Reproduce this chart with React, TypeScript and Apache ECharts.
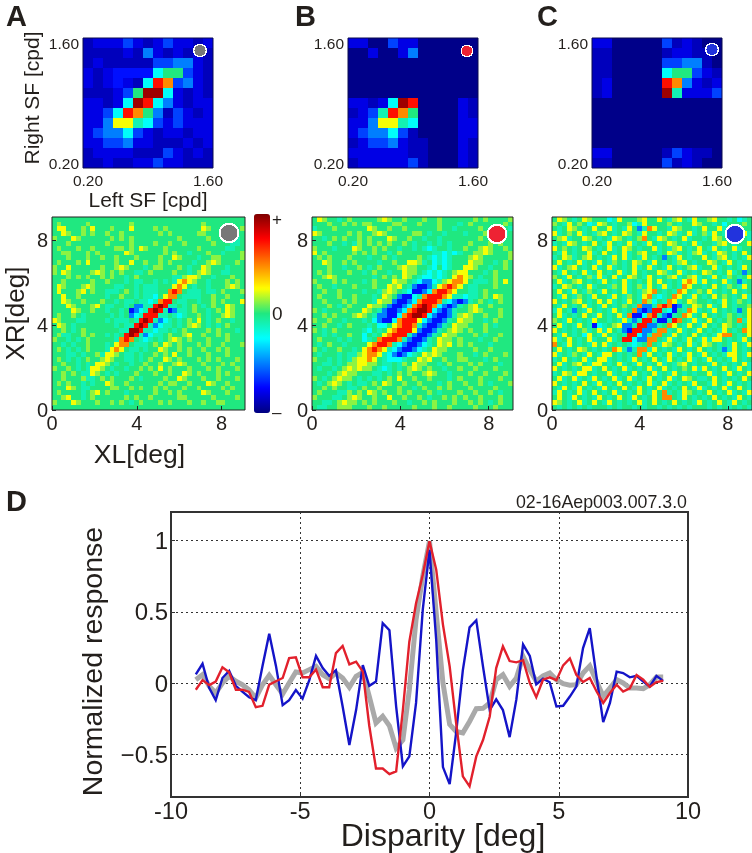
import React, { useEffect, useRef } from "react";
import * as echarts from "echarts";

const FONT = "'Liberation Sans', Arial, sans-serif";
const INK = "#231f1c";

const sfLabels = ["0.20","0.24","0.28","0.34","0.40","0.48","0.57","0.67","0.80","0.95","1.13","1.35","1.60"];
const levels: Record<string, number> = { n: 0.01, m: 0.06, u: 0.1, b: 0.14, h: 0.19, a: 0.25, c: 0.38, "-": 0.45, ".": 0.5, "+": 0.56, y: 0.62, o: 0.74, r: 0.86, d: 0.97 };

const sfA = ["muuuhumuhuumu","mmmmumaumumum","mummmmmhhaaum","umubbbbc..hum","umubumcrohaum","mmmuh.ddcumum","uumucdrcaumuu","uuhcro.amhumu","uuayy-chuhuuu","uhaachumuumuu","uuhhauummmumu","muuuummmhumum","mmummuuhuummm"];
const sfB = ["uunnhuunnnnnn","nnunnuannnnnn","nnnnnnnnnnnnn","nnnnnnnnnnnnn","nnnnnnnnnnnnn","nnnnnnnnnnnnn","uumucdrnnnnum","muh-ro.nnnnum","uuayy-cnnnnuu","uhaachmnnnnuu","muhhaummnnnum","uuuuuummnnnum","muuuuuhmnnnum"];
const sfC = ["uunnnnnhmumnn","mmnnnnnmuummn","mmnnnnnhhaamn","mmnnnnnc..hum","munnnnnroaumu","munnnnnd-uuuh","nnnnnnnnnnnnn","nnnnnnnnnnnnn","nnnnnnnnnnnnn","nnnnnnnnnnnnn","nnnnnnnnnnnnn","uunnnnnmhummn","mmnnnnnhmumnn"];

const rfA = [
".......... .......... .......... ..........",
".+.....+.. ......+... .......... .+........",
".yy...+.y. ..+...y... .+.+...... .y+......+",
"..y+..+.+. .+..+..... ..+.+..... ++........",
"+...y+.... ..+.+.+... ......+... ..+.....-.",
"...+...... .+....+... .+..+..+.. ...+...--.",
".+...+..+. ...++.+.y+ ...+...... +.....--..",
"..++...+.+ .....y+... ...+.+..-. ..+..-...+",
"...+...+.. +..+...+.. ..+..y+... -..++....+",
".+...+.y.. ...+..y..+ ..+.+....- ..+y+...+.",
"+..y...... +..+y+...- .++...+.-. .y+...-...",
"+.y+....+y +.+.+..--. +....+..-. +y+..--...",
"...+.+.+.. +.+..-.+.. .....--+yy +..-...+..",
"..+.....+. .+...-.--. .-.-.-yoy+ ..-...+.+.",
".y+...+y+. ...--..-.- --...yoy.- ..-...+y+.",
".y...+y.+. .---.+.-.- --..oro.-- -.--.+...+",
"..y..+.... .-..+..-.- -c.yoo.--- -..+..+...",
"..y+..+... +..-.--.-- c-orr.--.. -..+.+...y",
"...y+...+y .--..-.aa- -rdr--.-.+ .-.+..y+..",
"....y+..+. .-..-.bac- rdr-ba--.+ ..-.+.y+..",
".+..+.-... ..-.-.ac-r rr--.-c-.. +.-..+y+..",
"y+...--... .-.---.-rd r-ac-.-.+. y.-.+..-..",
".y+.-..... ...-.--rdr -ac--.-.+y +.-.-.+...",
"..+.-.+... ....--ddr- -c--.-.+.. ..+.+...-.",
".+--..+.+. .-.-.rdr-a c--.+..+y. .+..+.+...",
"+..-.-.+.. ...-oro.-c -.-.+y+.+. ..+...+...",
"..-.-..+.. .-.yoo.--- .+.y+.+... +.+..+...+",
".+.-.-.+.. .-yoy.--.- ..y+..+.+. .+..+.+...",
"...--.-..+ -yy+.--.-. .+.+.y..+. ..+...+...",
".+.-.-.+.. +y+..--.-. +..y+.+... +.+.+...+.",
"..+..-.-.y y+.-..-..+ ..+..+y+.. .+...+.+..",
"+..+.-.-yy +.-..-..+. +.y.+...+. ..+.+...+.",
"..+.+.--y+ .-.-...+.. .+..+..y+. +...+.+...",
"..+...+--. +.+...+.-. ...+..y+.. .+..+...+.",
".+.+..-.-. .y+..+.... ..+.++..+. ..y+..+...",
"...y+.--.. ..++..+.+. .+.+...+.. +....+.+..",
".+....-.+y .+...-.... .+..+.+... .y+...+...",
"..+y..-.+. .....+.+.. +.....++.. ...+....+.",
"+...y+...+ ..+.+.-.+. ..+.+...+. .+..++....",
".......... .......... .......... ..........",
];

const rfB = [
".y+..-.+.. ...+y+..+. ..+..+.... ..+.+....+",
"...+..+.+. ++....++.. .+...+...- .+......+.",
"-...+..... .y+..+..+. .....+..-. ...+..+..-",
"y+.....+.+ ..+y+..... ++.-..-... -...+...-.",
"..-.+.+..+ .+...y+..+ ..-..-.... ...+......",
"...+..-.-+ .+.+.+..+. -..-.-.-.. .+...+.+..",
"+...-...y+ ..+.+..-.. -.-c-..-.. +..+y+..+.",
"y.+.....+. +.+..-.+.. ....--c-c- ..++y+...+",
".+.+...+.. .-..+.-... .+.-c-c-.. .+y+.....+",
"..y+..+.+. ...-..+..y y+-.c-c-.. .y++..-.+.",
"...+..-..+ .-.+...+y+ +..-c.c-.. yy+..-..+.",
".+.+...+.. -.+..-..y+ +.-c-c-.+y y...-.+...",
"..+y+..... ..-.+.+.y+ .-cc-c-.yo y+.-..+...",
"+...+.+... -.+...y++. -caac-+yoo y.---.+.y.",
".+..-...+. ..+..y+y.- abba-yoroy .--...+...",
"..+..+.... -..-+y+.-c bbacorroy. .--.+.....",
".+...+..+. ..-.y+.abb c-orrroy-- c--.+.y+..",
"..+...+.+. ..-y++abba corrro-cab a-.+.-.+..",
"...+.-.+.. .y++.abbac ordrocaba- .+y..+....",
"+.-...+... y+.-abbaco rddrcaba-. .+y+...+..",
"..+.+...+y +.-aabbcor ddrcabba-+ y+..+..+..",
"+..+..-... -.cabbcorr rycabba-.y ++..-.+...",
"..+..-.+.. .-.cc.yorr o-abba-.y+ +...+.-...",
"+.-.+..... -c.-.yorrr yabba-.+y+ .+..+.....",
"..-.-..+.. c.-.yorrr- abba-.y++. ..+.-..+..",
".+...-.-.. c-.orrro-a bba-.y++.+ ...-..+...",
".-.+..-... .yorro-cab bac-.y+y.+ .+...-....",
"+.-..+..-. yoroy-cabb ac-.y++... ..+..+....",
".-...-.--+ yooy-cabac -.y+y+...+ ..-.+...+.",
"+..-.-.-+y yoy.-ccc-. .y+y..+..+ +...-.+...",
"..--.-.++y y++.--.-+. y++..-.+.. .+.+...-..",
".-..-.+y+y ++.-c-.-.+ y+.+..-..+ ..+...+...",
"...-.+y++. ..--.-.+.+ ..+y+..-.. .+..+...+.",
"+.-.+y++.- .-.-.+.y.. +..+...-.+ ...+...+..",
".-.+y+.-.- -.+.y+..+. .+...-.+.. +..+.-...+",
"..+.+..--. +..+...+.. -.+..+.+.. .+....+...",
".+...--+.+ .y+.+..+.+ ...+.-...+ ..+..+.-..",
"+...--.+y+ ..+..y..+. .+.-..+.+. +..+...+..",
"..--.+y++. +.+...+..- ..+.+...+. .+.+.-.+..",
".--..+++.. .+..+..... +...+..+.. ..+...+...",
];

const rfC = [
".y+.-.y+.. .c-y...+y. .y.-+y.-y. .+y..-.c-.",
"+.-y.+.c-y +.-..+c-y. ...+.-..y+ ..-.c...+.",
".-.y+.-.y. .y-.-y.a-o y..-y+..-. y..y-.+-..",
"y-.+.y-.-+ y.-.y+.-y. .-.y+-.y-. +-y.-..+y-",
".+y-..y+.- .-y+.-.+o. -y+.-.y-.. -.y+.c.+.-",
"-.-y+.-.y. -y.-.y-.-y .-.y+.-.y- ..-+y.-..y",
"y.+.-.y+.- .y-.y+.-.. y-.-+y.-.y .-y.-.y-..",
".-y.-..y-. y.-.y-.+y. .-.y+-.-+y -.-y+.-.y.",
"-.y+-.+y.- .-y.y-.-y. -.a.-y.-.. y.-+y.-.-y",
".y.-.y-.-y .-+.-.y+.- y.-.-+y.-. .y+.-y.-..",
"y-.+y.-.y- .y-.-.y-.y -.-y.-.+y- ..y-.-.-y.",
".-y.-.y-.y .-.y-.y.-. .y+-.y-.-. y+.-.y-.a.",
"+.-y.-.+-y -.y-.y+.-y .-.+y-.+y- .-y.-+.-.y",
".y-.+y.-.- y.-.y-.-.y .y.-.-yoy- y.-.y-.a-.",
"-.y+.-.y-. .-+.y-.+-y .-y-.-oy.. -.y.-+.-y.",
".y.-y.-+.- y.-.y-.-+y o.-.-oy.-+ .y-.-.y.-.",
".-y.-+.-y. .-y.-+.-yo -c-.oy.-y. -.y.+.-.y-",
"y.-.+y.-.y .y-.-y.-o+ c.-oy-.y+. .-.-y.-+.-",
".-y.-.y-.- y.-.+.-oaa -oroba-.y+ .y-.y.-..+",
"-y.-a.-y.- .-y.-.oaba rr-cb.-oy- .-y.-.-a.y",
".y-.-.y.-y .-.y-obbco r-ab-.oy-. y.-.-+.-.y",
"+.-y.-.-y. .-.-y-a-rr -bb-ro.-y- .y.-.+.o-y",
".y-.-y.-bc -.+yaa-rra a-.oy.-y.- y.-.y+.-.y",
"y.-.-.+-.y -y.-abrraa -oo-.y-.-y .-.-y.-.oy",
".-y.-.cy.- y.-.-rrca- oo.-y.-.y. -.-yoo.-.y",
"y-.y.-.y-. .y-.rrcaao o.-y-.-y.- y-yy.-.-y.",
"o.-y.-.-y. y-.-.-c-.o .-y+.-.y-. y+.-.-y.-y",
".y.-.y+.-. -.oy-a-oo- y.-.-y.-.y .-.-a-y.-.",
"y-.-+.-y.- yy.-.-.o-y .-.y-.-y.- y.-.-yy.-y",
"-.y.-.y-.y y-.-.-y.-. y.-y.-.y-. -y.-.-y.-.",
".y-.+y.-yy .-.y-.-y.- .y-.-+y.-. .-y.-.-.y-",
"y.-.-.yy-. y.-.y-.-.y -.y.-.+.y- y.-.y.-y.-",
"-.y+-yy.-. .y-.-.y.-. y-.-y.-.-. .y-.-y.-.y",
".y-.y-.-y. -.y-.y-.-y .-.y-.y+.- -.y.-.-.y.",
"y.-.-.y.-y .-.y.-.-.y -.y-.-.-y. .-y.-y.-.-",
".-y.-y.-.- y.-.y.-y.- .y-.-.y.-y -.-.y-.y.-",
"-y.-.y-.y. -.y-.-.y.- y.o-.-y+.- .y.-.y-.-y",
".y.-y.-.-y .-.y.-y.-. y.oo.-y.-. -.y.-.-y.-",
"y+.-.y-.y. -y.-.-.y-. y.-.y.-.-y .-.y.-y.-.",
".-.-.-.-.. .-.-..-.-. .-.-.-.-.. .-.-.-.-.-",
];

const disparity = [-9.04,-8.78,-8.52,-8.27,-8.01,-7.75,-7.49,-7.24,-6.98,-6.72,-6.46,-6.2,-5.94,-5.68,-5.43,-5.17,-4.91,-4.65,-4.39,-4.13,-3.88,-3.62,-3.36,-3.1,-2.84,-2.58,-2.33,-2.07,-1.81,-1.55,-1.29,-1.03,-0.78,-0.52,-0.26,0,0.26,0.52,0.78,1.03,1.29,1.55,1.81,2.07,2.33,2.58,2.84,3.1,3.36,3.62,3.88,4.13,4.39,4.65,4.91,5.17,5.43,5.68,5.94,6.2,6.46,6.72,6.98,7.24,7.49,7.75,8.01,8.27,8.52,8.78,9.04];
const blueResp = [0.06,0.135,-0.035,-0.12,0.035,0.085,-0.02,-0.06,-0.1,-0.12,0.12,0.345,0.12,-0.155,-0.12,-0.05,-0.11,0.02,0.19,0.105,0.05,0.09,-0.165,-0.435,-0.19,0.125,-0.02,0.01,0.42,0.37,-0.165,-0.585,-0.515,-0.14,0.515,0.935,0.3,-0.59,-0.71,-0.35,0.09,0.39,0.44,0.115,-0.19,-0.115,-0.19,-0.38,-0.115,0.27,0.19,-0.01,0.03,0.005,-0.165,-0.16,-0.095,-0.025,0.245,0.385,0.045,-0.275,-0.14,0.08,0.07,0.04,0.05,0.01,-0.025,0.05,0.015];
const redResp = [-0.047,0.02,-0.015,0.01,0.11,0.075,-0.047,-0.047,-0.063,-0.17,-0.16,-0.012,0.012,0.035,0.175,0.18,0.04,0.04,0.095,-0.03,-0.03,0.21,0.26,0.13,0.15,0.08,-0.3,-0.6,-0.6,-0.64,-0.62,-0.19,0.29,0.56,0.76,0.995,0.795,0.41,0.117,-0.28,-0.655,-0.725,-0.515,-0.4,-0.235,0.105,0.257,0.154,0.145,0.16,0,-0.1,0.023,0.04,0.02,0.124,0.173,0.058,0.007,0.035,-0.058,-0.14,-0.07,-0.012,-0.06,-0.037,0.056,0.023,-0.028,0.007,0.016];
const grayResp = [0.023,0.058,-0.023,-0.07,0,0.047,0.012,-0.012,-0.047,-0.105,-0.012,0.054,-0.012,-0.077,0,0.077,0.07,0.094,0.117,0.058,0.03,0.07,0.035,-0.03,0.047,0.075,-0.094,-0.28,-0.234,-0.3,-0.457,-0.4,-0.047,0.445,0.75,0.995,0.49,0,-0.29,-0.34,-0.35,-0.27,-0.18,-0.178,-0.14,0.023,0.058,-0.023,0.035,0.187,0.093,0.012,0.05,0.07,0.023,-0.005,-0.016,-0.012,0.07,0.12,0.012,-0.093,-0.035,0.023,0,-0.035,-0.035,-0.04,-0.012,0.042,0.042];

const jet = ["#00007f","#0000ff","#007fff","#00ffff","#20e880","#ffff00","#ff7f00","#ff0000","#7f0000"];

function cells(rows: string[]) {
  const out: number[][] = [];
  const n = rows.length;
  rows.forEach((row, r) => {
    const s = row.replace(/ /g, "");
    for (let c = 0; c < n; c++) out.push([c, n - 1 - r, levels[s[c] ?? "."] ?? levels["."]]);
  });
  return out;
}

const topBoxes = [
  { left: 83, top: 38, width: 130, height: 130, rows: sfA },
  { left: 348, top: 38, width: 130, height: 130, rows: sfB },
  { left: 592, top: 38, width: 130, height: 130, rows: sfC },
];
const rfBoxes = [
  { left: 52, top: 217, width: 193, height: 193, rows: rfA, maxX: 9.1 },
  { left: 312, top: 217, width: 201, height: 193, rows: rfB, maxX: 9.1 },
  { left: 552, top: 217, width: 200, height: 193, rows: rfC, maxX: 9.1 },
];
const markerColors = ["#787878", "#ee2233", "#2233dd"];

function buildOption() {
  const grid: any[] = [];
  const xAxis: any[] = [];
  const yAxis: any[] = [];
  const series: any[] = [];
  const graphic: any[] = [];
  const lbl = (size: number) => ({ color: INK, fontFamily: FONT, fontSize: size });

  topBoxes.forEach((b, i) => {
    const g = grid.length;
    grid.push({ left: b.left, top: b.top, width: b.width, height: b.height, outerBoundsMode: "none" });
    const first = i === 0;
    xAxis.push({
      type: "category", gridIndex: g, data: sfLabels, axisTick: { show: false }, axisLine: { show: false }, splitLine: { show: false },
      axisLabel: { ...lbl(15.5), interval: 11, margin: 4, hideOverlap: false },
      ...(first ? { name: "Left SF [cpd]", nameLocation: "middle", nameGap: 20, nameTextStyle: lbl(21) } : {}),
    });
    yAxis.push({
      type: "category", gridIndex: g, data: sfLabels, axisTick: { show: false }, axisLine: { show: false }, splitLine: { show: false },
      axisLabel: { ...lbl(15.5), interval: 11, margin: 4 },
      ...(first ? { name: "Right SF [cpd]", nameLocation: "middle", nameGap: 41, nameTextStyle: { ...lbl(21), padding: [0, 0, 0, 10] } } : {}),
    });
    series.push({ type: "heatmap", xAxisIndex: xAxis.length - 1, yAxisIndex: yAxis.length - 1, data: cells(b.rows), silent: true, progressive: 0 });
    graphic.push({ type: "rect", z: 20, shape: { x: b.left, y: b.top, width: b.width, height: b.height }, style: { fill: "none", stroke: "#0a0a50", lineWidth: 1 } });
  });

  rfBoxes.forEach((b, i) => {
    const g = grid.length;
    grid.push({ left: b.left, top: b.top, width: b.width, height: b.height, outerBoundsMode: "none" });
    const first = i === 0;
    const cats = b.rows.map((_, k) => String(k));
    xAxis.push({ type: "category", gridIndex: g, data: cats, show: false });
    yAxis.push({ type: "category", gridIndex: g, data: cats, show: false });
    series.push({ type: "heatmap", xAxisIndex: xAxis.length - 1, yAxisIndex: yAxis.length - 1, data: cells(b.rows), silent: true, progressive: 0 });
    const tickVals = [0, 4, 8];
    xAxis.push({
      type: "value", gridIndex: g, position: "bottom", min: 0, max: b.maxX, z: 10, splitLine: { show: false },
      axisLine: { show: false, onZero: false },
      axisTick: { inside: true, length: 4, customValues: tickVals, lineStyle: { color: "#222" } },
      axisLabel: { ...lbl(20), customValues: tickVals, margin: 3 },
      ...(first ? { name: "XL[deg]", nameLocation: "middle", nameGap: 30, nameTextStyle: { ...lbl(26.5), padding: [0, 18, 0, 0] } } : {}),
    });
    yAxis.push({
      type: "value", gridIndex: g, position: "left", min: 0, max: 9.1, z: 10, splitLine: { show: false },
      axisLine: { show: false, onZero: false },
      axisTick: { inside: true, length: 4, customValues: tickVals, lineStyle: { color: "#222" } },
      axisLabel: { ...lbl(20), customValues: tickVals, margin: 4 },
      ...(first ? { name: "XR[deg]", nameLocation: "middle", nameGap: 24, nameMoveOverlap: false, nameTextStyle: lbl(26) } : {}),
    });
    graphic.push({ type: "rect", z: 20, shape: { x: b.left, y: b.top, width: b.width, height: b.height }, style: { fill: "none", stroke: "#222", lineWidth: 1 } });
  });

  const lg = grid.length;
  grid.push({ left: 171, top: 512, width: 517, height: 285, show: true, borderColor: "#333", borderWidth: 1.5, backgroundColor: "#fff", outerBoundsMode: "none" });
  const dot = { show: true, lineStyle: { color: "#333", width: 1, type: [2, 3] } };
  xAxis.push({
    type: "value", gridIndex: lg, min: -10, max: 10, interval: 5, splitLine: dot,
    axisLine: { show: true, onZero: false, lineStyle: { color: "#333", width: 1.5 } },
    axisTick: { inside: true, length: 4, lineStyle: { color: "#333" } },
    axisLabel: { ...lbl(23.5), margin: 5, lineHeight: 18 },
    name: "Disparity [deg]", nameLocation: "middle", nameGap: 24, nameMoveOverlap: false, nameTextStyle: { ...lbl(32), lineHeight: 28, padding: [0, 0, 0, 27] },
  });
  const yVals = [-0.5, 0, 0.5, 1];
  yAxis.push({
    type: "value", gridIndex: lg, min: -0.8, max: 1.2, splitLine: dot,
    axisLine: { show: true, onZero: false, lineStyle: { color: "#333", width: 1.5 } },
    axisTick: { inside: true, length: 4, customValues: yVals, lineStyle: { color: "#333" } },
    axisLabel: { ...lbl(24), customValues: yVals, margin: 3, formatter: (v: number) => String(v).replace("-", "\u2212") },
    name: "Normalized response", nameLocation: "middle", nameGap: 65, nameMoveOverlap: false, nameTextStyle: { ...lbl(28.5), padding: [0, 14, 0, 0] },
  });
  const lineSeries = (name: string, vals: number[], color: string, width: number) => ({
    type: "line", name, xAxisIndex: xAxis.length - 1, yAxisIndex: yAxis.length - 1, showSymbol: false, symbol: "none", silent: true,
    lineStyle: { color, width, join: "miter" }, data: vals.map((v, i) => [disparity[i], v]),
  });
  series.push(lineSeries("Gray", grayResp, "#a9a9a9", 5));
  series.push(lineSeries("Blue", blueResp, "#1414c8", 2.4));
  series.push(lineSeries("Red", redResp, "#e2202c", 2.4));

  const circle = (cx: number, cy: number, r: number, fill: string, lw: number) => ({
    type: "circle", z: 30, shape: { cx, cy, r }, style: { fill, stroke: "#fff", lineWidth: lw },
  });
  graphic.push(circle(200, 50.5, 6.2, markerColors[0], 1.3));
  graphic.push(circle(467, 51, 5.8, markerColors[1], 1.3));
  graphic.push(circle(712, 49.5, 6.2, markerColors[2], 1.3));
  graphic.push(circle(229, 233, 9.3, markerColors[0], 2));
  graphic.push(circle(497, 234, 9.3, markerColors[1], 2));
  graphic.push(circle(735, 234, 9.3, markerColors[2], 2));

  const txt = (x: number, y: number, text: string, size: number, extra: any = {}) => ({
    type: "text", z: 30, x, y, style: { text, fill: INK, font: `${extra.weight ?? "normal"} ${size}px ${FONT}`, textAlign: extra.align ?? "left", textVerticalAlign: "middle" },
  });
  graphic.push(txt(6, 16, "A", 29, { weight: "bold" }));
  graphic.push(txt(295, 16, "B", 29, { weight: "bold" }));
  graphic.push(txt(537, 16, "C", 29, { weight: "bold" }));
  graphic.push(txt(6, 501, "D", 29, { weight: "bold" }));
  graphic.push(txt(272, 219, "+", 17));
  graphic.push(txt(272, 313, "0", 19));
  graphic.push(txt(272, 412, "–", 17));
  graphic.push(txt(687, 502, "02-16Aep003.007.3.0", 17.8, { align: "right" }));

  return {
    animation: false,
    backgroundColor: "#fff",
    textStyle: { fontFamily: FONT },
    grid, xAxis, yAxis, series, graphic,
    visualMap: {
      type: "continuous", min: 0, max: 1, seriesIndex: [0, 1, 2, 3, 4, 5], calculable: false, realtime: false, hoverLink: false,
      left: 254, top: 214, itemWidth: 16, itemHeight: 199, padding: 0, text: null, showLabel: false,
      inRange: { color: jet },
    },
  };
}

export default function App() {
  const ref = useRef<HTMLDivElement>(null);
  useEffect(() => {
    const chart = echarts.init(ref.current!, null, { renderer: "svg" });
    chart.setOption(buildOption() as any);
    return () => chart.dispose();
  }, []);
  return (
    <>
      <style>{`svg path:not([fill="none"]){shape-rendering:crispEdges}`}</style>
      <div ref={ref} style={{ position: "absolute", left: 0, top: 0, width: 752, height: 853, filter: "blur(0.5px)" }} />
    </>
  );
}
